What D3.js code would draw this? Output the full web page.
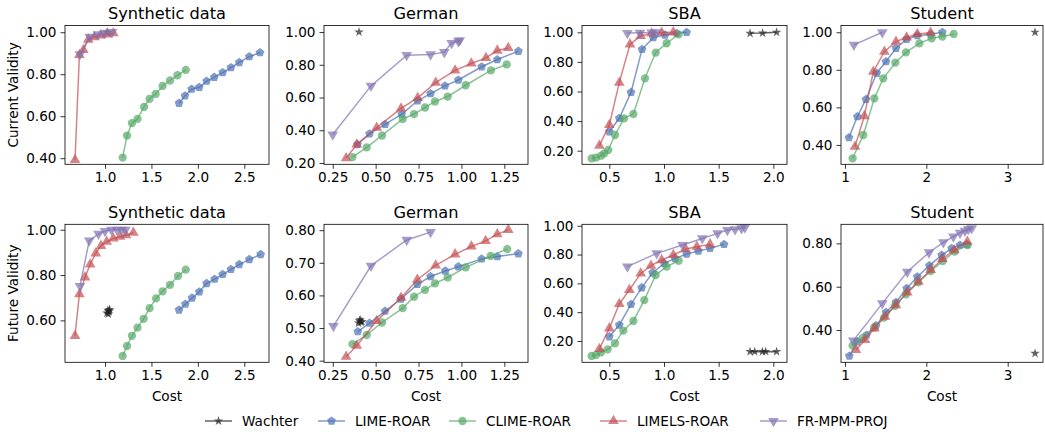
<!DOCTYPE html>
<html><head><meta charset="utf-8">
<script src="https://cdn.jsdelivr.net/npm/d3@7"></script>
<style>body{margin:0;background:#fff}svg{display:block;font-family:"DejaVu Sans",sans-serif}</style>
</head><body><svg id="c" width="1045" height="432"></svg>
<script>
const methods = ["Wachter","LIME-ROAR","CLIME-ROAR","LIMELS-ROAR","FR-MPM-PROJ"];
const keys = ["wachter","lime","clime","limels","fr"];
const colors = ["#222222","#4C72B0","#55A868","#C44E52","#8172B2"];
const datasets = ["Synthetic data","German","SBA","Student"];
const rowLabels = ["Current Validity","Future Validity"];

const synCur = {
  wachter:[[1.025,1.0]],
  lime:[[1.797,0.662],[1.861,0.697],[1.933,0.729],[2.015,0.738],[2.094,0.767],[2.177,0.786],[2.267,0.808],[2.356,0.832],[2.446,0.856],[2.554,0.884],[2.669,0.903]],
  clime:[[1.19,0.403],[1.237,0.508],[1.29,0.567],[1.35,0.587],[1.42,0.644],[1.48,0.683],[1.545,0.706],[1.62,0.744],[1.70,0.770],[1.78,0.795],[1.87,0.821]],
  limels:[[0.677,0.392],[0.724,0.892],[0.767,0.916],[0.82,0.965],[0.885,0.977],[0.95,0.985],[1.02,0.99],[1.09,0.995]],
  fr:[[0.73,0.895],[0.835,0.978],[0.925,0.99],[1.0,0.997],[1.075,1.0]]
};
const synFut = {
  wachter:[[1.02,0.632],[1.03,0.645],[1.04,0.638],[1.05,0.648],[1.035,0.628],[1.045,0.642]],
  lime:[[1.797,0.646],[1.865,0.672],[1.937,0.699],[2.015,0.726],[2.094,0.763],[2.18,0.782],[2.267,0.803],[2.356,0.825],[2.446,0.847],[2.554,0.869],[2.676,0.891]],
  clime:[[1.19,0.443],[1.237,0.487],[1.29,0.532],[1.35,0.568],[1.416,0.607],[1.48,0.654],[1.55,0.697],[1.62,0.728],[1.70,0.757],[1.786,0.796],[1.87,0.824]],
  limels:[[0.677,0.532],[0.724,0.716],[0.785,0.79],[0.84,0.847],[0.90,0.896],[0.957,0.929],[1.018,0.947],[1.09,0.962],[1.16,0.969],[1.226,0.976],[1.305,0.987]],
  fr:[[0.73,0.751],[0.83,0.952],[0.93,0.982],[1.0,0.994],[1.07,1.0],[1.13,1.0],[1.18,1.0],[1.22,1.0]]
};
const gerCur = {
  wachter:[[0.403,1.0]],
  lime:[[0.394,0.313],[0.464,0.378],[0.555,0.436],[0.652,0.499],[0.745,0.58],[0.82,0.624],[0.904,0.671],[0.982,0.707],[1.118,0.788],[1.209,0.832],[1.332,0.883]],
  clime:[[0.365,0.236],[0.448,0.295],[0.537,0.368],[0.658,0.469],[0.724,0.499],[0.788,0.539],[0.846,0.576],[0.92,0.606],[1.025,0.675],[1.172,0.766],[1.264,0.802]],
  limels:[[0.328,0.23],[0.39,0.313],[0.506,0.416],[0.648,0.533],[0.745,0.598],[0.85,0.691],[0.963,0.766],[1.058,0.808],[1.143,0.842],[1.209,0.887],[1.273,0.903]],
  fr:[[0.25,0.374],[0.473,0.671],[0.681,0.859],[0.82,0.863],[0.90,0.877],[0.943,0.933],[0.982,0.943],[0.99,0.95]]
};
const gerFut = {
  wachter:[[0.40,0.515],[0.41,0.525],[0.415,0.518],[0.405,0.522],[0.42,0.52]],
  lime:[[0.396,0.489],[0.464,0.515],[0.555,0.552],[0.648,0.589],[0.743,0.634],[0.82,0.658],[0.906,0.675],[0.982,0.688],[1.118,0.712],[1.209,0.719],[1.332,0.728]],
  clime:[[0.365,0.451],[0.448,0.479],[0.537,0.517],[0.658,0.561],[0.724,0.596],[0.788,0.617],[0.846,0.637],[0.92,0.655],[1.025,0.686],[1.17,0.721],[1.267,0.742]],
  limels:[[0.328,0.412],[0.39,0.446],[0.506,0.522],[0.648,0.593],[0.743,0.648],[0.85,0.692],[0.963,0.726],[1.058,0.75],[1.141,0.767],[1.209,0.788],[1.273,0.801]],
  fr:[[0.254,0.506],[0.473,0.691],[0.681,0.77],[0.82,0.794]]
};
const sbaCur = {
  wachter:[[1.787,0.993],[1.902,0.995],[2.03,1.0]],
  lime:[[0.5,0.328],[0.591,0.419],[0.698,0.594],[0.799,0.885],[0.902,0.964],[1.009,0.982],[1.116,0.993],[1.207,1.0]],
  clime:[[0.338,0.148],[0.378,0.153],[0.424,0.166],[0.454,0.182],[0.49,0.205],[0.552,0.306],[0.634,0.419],[0.72,0.448],[0.826,0.689],[0.924,0.863],[1.024,0.926],[1.134,0.986]],
  limels:[[0.409,0.234],[0.5,0.374],[0.591,0.66],[0.689,0.919],[0.787,0.975],[0.887,0.993],[0.979,0.998],[1.085,1.0]],
  fr:[[0.665,0.995],[0.78,0.997],[0.887,0.998],[0.933,1.0]]
};
const sbaFut = {
  wachter:[[1.787,0.126],[1.83,0.126],[1.90,0.126],[1.93,0.127],[2.03,0.126]],
  lime:[[0.5,0.23],[0.591,0.311],[0.698,0.454],[0.796,0.57],[0.896,0.674],[1.003,0.739],[1.101,0.773],[1.207,0.803],[1.314,0.824],[1.421,0.843],[1.549,0.871]],
  clime:[[0.338,0.096],[0.378,0.103],[0.424,0.121],[0.485,0.142],[0.552,0.184],[0.628,0.272],[0.72,0.339],[0.82,0.484],[0.924,0.658],[1.024,0.716],[1.134,0.757]],
  limels:[[0.409,0.145],[0.5,0.288],[0.591,0.457],[0.683,0.554],[0.787,0.669],[0.881,0.723],[0.979,0.762],[1.085,0.797],[1.198,0.838],[1.3,0.854],[1.421,0.871]],
  fr:[[0.665,0.716],[0.933,0.808],[1.17,0.866],[1.35,0.912],[1.49,0.947],[1.58,0.97],[1.65,0.975],[1.71,0.982],[1.74,0.988]]
};
const stuCur = {
  wachter:[[3.336,1.0]],
  lime:[[1.049,0.439],[1.152,0.551],[1.258,0.643],[1.389,0.782],[1.504,0.844],[1.627,0.915],[1.758,0.963],[1.889,0.982],[2.053,0.989],[2.197,1.0]],
  clime:[[1.094,0.329],[1.225,0.453],[1.361,0.648],[1.471,0.755],[1.619,0.838],[1.75,0.893],[1.914,0.941],[2.066,0.968],[2.197,0.977],[2.336,0.991]],
  limels:[[1.123,0.391],[1.238,0.554],[1.348,0.79],[1.484,0.897],[1.627,0.95],[1.758,0.973],[1.889,0.991],[2.053,0.998]],
  fr:[[1.11,0.933],[1.459,1.0]]
};
const stuFut = {
  wachter:[[3.336,0.292]],
  lime:[[1.053,0.28],[1.152,0.346],[1.266,0.377],[1.381,0.42],[1.504,0.482],[1.627,0.528],[1.758,0.592],[1.889,0.646],[2.037,0.697],[2.189,0.746],[2.311,0.777],[2.414,0.792],[2.496,0.795]],
  clime:[[1.094,0.328],[1.217,0.362],[1.357,0.411],[1.48,0.457],[1.615,0.512],[1.75,0.565],[1.898,0.62],[2.053,0.672],[2.201,0.718],[2.348,0.762],[2.508,0.792]],
  limels:[[1.135,0.308],[1.246,0.354],[1.361,0.408],[1.492,0.462],[1.627,0.515],[1.766,0.574],[1.902,0.623],[2.053,0.677],[2.197,0.728],[2.344,0.769],[2.504,0.808]],
  fr:[[1.102,0.351],[1.459,0.523],[1.766,0.669],[2.033,0.758],[2.209,0.805],[2.332,0.831],[2.414,0.849],[2.475,0.858],[2.516,0.866],[2.557,0.869]]
};

const xTicks = [[1.0,1.5,2.0,2.5],[0.25,0.5,0.75,1.0,1.25],[0.5,1.0,1.5,2.0],[1,2,3]];
const xFormats = [".1f",".2f",".1f","d"];
const yTicksCur = [[0.4,0.6,0.8,1.0],[0.2,0.4,0.6,0.8,1.0],[0.2,0.4,0.6,0.8,1.0],[0.4,0.6,0.8,1.0]];
const yTicksFut = [[0.6,0.8,1.0],[0.4,0.5,0.6,0.7,0.8],[0.2,0.4,0.6,0.8,1.0],[0.4,0.6,0.8]];

// layout
const colsPx = [[65,269],[324,528],[582,787],[841,1043]];
const rowsPx = [[25.5,164.3],[224.3,362.3]];
const xDomains = [[0.569,2.766],[0.199,1.388],[0.25,2.125],[0.951,3.434]];
const yDomainsCur = [[0.371,1.032],[0.192,1.04],[0.108,1.046],[0.297,1.036]];
const yDomainsFut = [[0.415,1.024],[0.395,0.818],[0.052,1.01],[0.251,0.888]];

const panels = [
  [synCur,gerCur,sbaCur,stuCur],
  [synFut,gerFut,sbaFut,stuFut]
];

const svg = d3.select("#c");
const ALPHA = 0.7;
const TICKFS = 13.6, LABFS = 13.6, TITLEFS = 16.2;

function pentagon(r){
  const p=[];
  for(let k=0;k<5;k++){const a=-Math.PI/2+k*2*Math.PI/5;p.push([r*Math.cos(a),r*Math.sin(a)]);}
  return "M"+p.map(q=>q[0].toFixed(2)+","+q[1].toFixed(2)).join("L")+"Z";
}
function markerPath(i){
  if(i===0) return d3.symbol(d3.symbolStar,28)();
  if(i===1) return pentagon(4.6);
  if(i===2) return d3.symbol(d3.symbolCircle,54)();
  return d3.symbol(d3.symbolTriangle,50)();
}
function markerTransform(i,x,y){
  return `translate(${x},${y})` + (i===4?" rotate(180)":"");
}

let clipId=0;
for(let r=0;r<2;r++){
  for(let c=0;c<4;c++){
    const [x0,x1]=colsPx[c], [y0,y1]=rowsPx[r];
    const xs=d3.scaleLinear().domain(xDomains[c]).range([x0,x1]);
    const ys=d3.scaleLinear().domain(r===0?yDomainsCur[c]:yDomainsFut[c]).range([y1,y0]);
    const g=svg.append("g");
    const id="clip"+(clipId++);
    svg.append("clipPath").attr("id",id).append("rect").attr("x",x0).attr("y",y0).attr("width",x1-x0).attr("height",y1-y0);
    const pg=g.append("g").attr("clip-path",`url(#${id})`);
    const data=panels[r][c];
    keys.forEach((k,i)=>{
      const pts=data[k];
      const line=d3.line().x(d=>xs(d[0])).y(d=>ys(d[1]));
      pg.append("path").attr("d",line(pts)).attr("fill","none").attr("stroke",colors[i])
        .attr("stroke-width",1.5).attr("stroke-opacity",ALPHA);
      pg.selectAll(null).data(pts).enter().append("path")
        .attr("d",markerPath(i)).attr("transform",d=>markerTransform(i,xs(d[0]),ys(d[1])))
        .attr("fill",colors[i]).attr("fill-opacity",ALPHA).attr("stroke","none");
    });
    // axes
    const xa=d3.axisBottom(xs).tickValues(xTicks[c]).tickFormat(d3.format(xFormats[c])).tickSizeOuter(0).tickSize(4.5).tickPadding(4);
    const ya=d3.axisLeft(ys).tickValues(r===0?yTicksCur[c]:yTicksFut[c]).tickFormat(d3.format(".2f")).tickSizeOuter(0).tickSize(4.5).tickPadding(4);
    const gx=g.append("g").attr("transform",`translate(0,${y1})`).call(xa);
    const gy=g.append("g").attr("transform",`translate(${x0},0)`).call(ya);
    [gx,gy].forEach(a=>{
      a.select(".domain").remove();
      a.selectAll("text").attr("font-size",TICKFS).attr("fill","#000").attr("font-family","DejaVu Sans");
      a.selectAll("line").attr("stroke","#000").attr("stroke-width",0.8);
    });
    g.append("rect").attr("x",x0).attr("y",y0).attr("width",x1-x0).attr("height",y1-y0)
      .attr("fill","none").attr("stroke","#000").attr("stroke-width",0.8);
    g.append("text").attr("x",(x0+x1)/2).attr("y",y0-6.5).attr("text-anchor","middle")
      .attr("font-size",TITLEFS).text(datasets[c]);
    if(c===0){
      g.append("text").attr("transform",`translate(18,${(y0+y1)/2}) rotate(-90)`).attr("text-anchor","middle")
        .attr("font-size",LABFS).text(rowLabels[r]);
    }
    if(r===1){
      g.append("text").attr("x",(x0+x1)/2).attr("y",401).attr("text-anchor","middle")
        .attr("font-size",LABFS).text("Cost");
    }
  }
}

// legend
const legX=[205,318,449,600,760];
const legY=421;
methods.forEach((m,i)=>{
  const lx=legX[i];
  svg.append("line").attr("x1",lx).attr("x2",lx+27).attr("y1",legY).attr("y2",legY)
    .attr("stroke",colors[i]).attr("stroke-width",1.5).attr("stroke-opacity",ALPHA);
  svg.append("path").attr("d",markerPath(i)).attr("transform",markerTransform(i,lx+13.5,legY))
    .attr("fill",colors[i]).attr("fill-opacity",ALPHA);
  svg.append("text").attr("x",lx+37).attr("y",legY+5).attr("font-size",LABFS).text(m);
});
</script></body></html>
